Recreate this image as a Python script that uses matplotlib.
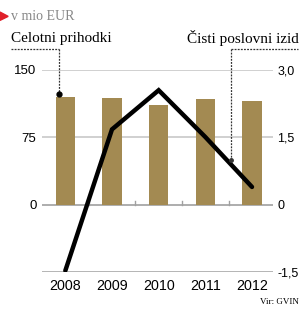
import matplotlib.pyplot as plt
from matplotlib.lines import Line2D

# data
years = ["2008", "2009", "2010", "2011", "2012"]
prihodki = [120, 118, 111, 117, 115]        # mio EUR, left axis
izid = [-1.47, 1.67, 2.54, 1.5, 0.39]       # mio EUR, right axis

bar_col = "#a38a52"
sans = "Liberation Sans"
serif = "Liberation Serif"

fig = plt.figure(figsize=(3.02, 3.09), dpi=100)
ax = fig.add_axes([0.139, 0.1197, 0.765, 0.6553])
ax2 = ax.twinx()

x = list(range(len(years)))
ax.bar(x, prihodki, width=0.41, color=bar_col, zorder=2)
ax.set_xlim(-0.5, 4.45)
ax.set_ylim(-75, 150)
ax2.set_ylim(-1.5, 3.0)

# grid lines
for v, c in [(150, "#c8c8c8"), (75, "#c8c8c8"), (0, "#a0a0a0"), (-75, "#a8a8a8")]:
    ax.axhline(v, color=c, lw=1.2, zorder=1)
# small ticks on zero line between categories
for m in [0.5, 1.5, 2.5, 3.5]:
    ax.plot([m, m], [0, 4], color="#a0a0a0", lw=1, zorder=1)

ax2.plot(x, izid, color="black", lw=3.2, solid_capstyle="round",
         solid_joinstyle="miter", zorder=3)

for a in (ax, ax2):
    for s in a.spines.values():
        s.set_visible(False)
    a.tick_params(length=0)

ax.set_yticks([0, 75, 150])
ax.set_yticklabels(["0", "75", "150"], fontsize=9.5, family=sans)
ax2.set_yticks([-1.5, 0, 1.5, 3.0])
ax2.set_yticklabels(["-1,5", "0", "1,5", "3,0"], fontsize=9, family=sans)
ax.tick_params(axis="y", pad=4)
ax2.tick_params(axis="y", pad=3)
ax.set_xticks(x)
ax.set_xticklabels(years, fontsize=10.3, family=sans)
ax.tick_params(axis="x", pad=5)

# header texts
fig.text(0.036, 0.947, "v mio EUR", fontsize=10, family=serif, color="#888888",
         va="center")
fig.patches.append(plt.Polygon([[0.0, 0.961], [0.0, 0.934], [0.027, 0.947]],
                               closed=True, transform=fig.transFigure,
                               color="#e0202a"))
fig.text(0.036, 0.876, "Celotni prihodki", fontsize=11, family=serif,
         va="center")
fig.text(0.99, 0.876, "Čisti poslovni izid", fontsize=11, family=serif,
         va="center", ha="right")

# dashed leader lines
def fx(px):
    return px / 302

def fy(py):
    return 1 - py / 309

dash = dict(color="#333333", lw=0.9, ls=(0, (1.5, 1)), transform=fig.transFigure)
fig.lines.append(Line2D([fx(11), fx(59)], [fy(49), fy(49)], **dash))
fig.lines.append(Line2D([fx(59), fx(59)], [fy(49), fy(94)], **dash))
fig.lines.append(Line2D([fx(231), fx(298)], [fy(49), fy(49)], **dash))
fig.lines.append(Line2D([fx(231), fx(231)], [fy(49), fy(160)], **dash))
fig.lines.append(Line2D([fx(59)], [fy(94)], marker="o", ms=3.5, color="black",
                        transform=fig.transFigure))
fig.lines.append(Line2D([fx(231)], [fy(160)], marker="o", ms=2.5, color="#333333",
                        transform=fig.transFigure))

fig.text(0.99, 0.022, "Vir: GVIN", fontsize=6.5, family=serif, ha="right",
         va="center")

fig.savefig("out.png", dpi=100)
